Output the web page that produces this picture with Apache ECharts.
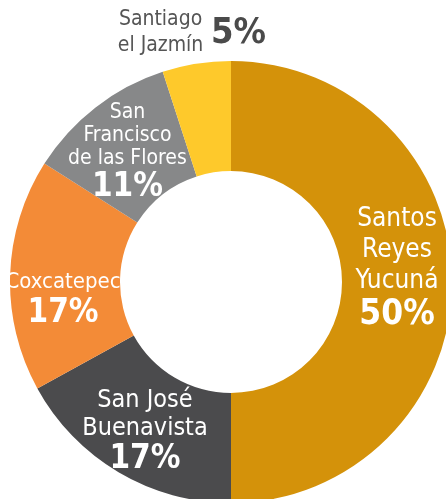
<!DOCTYPE html>
<html>
<head>
<meta charset="utf-8">
<script src="https://cdn.jsdelivr.net/npm/echarts@6/dist/echarts.min.js"></script>
<style>
html, body { margin: 0; padding: 0; background: #fff; }
#main { width: 446px; height: 499px; }
</style>
</head>
<body>
<div id="main"></div>
<script>
var names = ['Santos\nReyes\nYucuná', 'San José\nBuenavista', 'Coxcatepec', 'San\nFrancisco\nde las Flores', 'Santiago\nel Jazmín'];
var values = [50, 17, 17, 11, 5];
var colors = ['#d4920a', '#4b4b4d', '#f38b37', '#878889', '#fec92b'];

var font = "'DejaVu Sans Condensed', 'DejaVu Sans', sans-serif";

// estilo de etiqueta por rebanada
var labelStyles = [
    { name: 26, nameLh: 31, pct: 35, offset: [-3, -14] },
    { name: 25, nameLh: 28, pct: 33, offset: [0, 4] },
    { name: 22, nameLh: 30, pct: 33, offset: [1, 22] },
    { name: 21, nameLh: 23, pct: 33, offset: [0, 4] }
];

var seriesData = values.map(function (v, i) {
    var item = {
        name: names[i],
        value: v,
        itemStyle: { color: colors[i] }
    };
    if (i < 4) {
        var s = labelStyles[i];
        item.label = {
            offset: s.offset,
            formatter: '{n|' + names[i].split('\n').join('}\n{n|') + '}\n{p|' + v + '%}',
            rich: {
                n: { fontFamily: font, fontSize: s.name, lineHeight: s.nameLh, color: '#fff' },
                p: { fontFamily: font, fontSize: s.pct, fontWeight: 'bold', lineHeight: s.pct, color: '#fff' }
            }
        };
    } else {
        item.label = {
            offset: [-44, -83],
            formatter: '{n|' + names[i].split('\n').join('}\n{n|') + '}',
            rich: {
                n: { fontFamily: font, fontSize: 21, lineHeight: 26, color: '#555' }
            }
        };
    }
    return item;
});

// serie transparente solo para el porcentaje de Santiago
var pctData = values.map(function (v, i) {
    return {
        name: names[i],
        value: v,
        label: {
            show: i === 4,
            offset: [34, -81],
            formatter: v + '%',
            fontFamily: font,
            fontSize: 36,
            fontWeight: 'bold',
            color: '#4a4a4a'
        }
    };
});

var option = {
    animation: false,
    series: [{
        type: 'pie',
        center: [231, 282],
        radius: [111, 221],
        startAngle: 90,
        clockwise: true,
        avoidLabelOverlap: false,
        label: {
            show: true,
            position: 'inside',
            align: 'center'
        },
        labelLine: { show: false },
        emphasis: { disabled: true },
        data: seriesData
    }, {
        type: 'pie',
        center: [231, 282],
        radius: [111, 221],
        startAngle: 90,
        clockwise: true,
        silent: true,
        avoidLabelOverlap: false,
        itemStyle: { color: 'transparent', borderWidth: 0 },
        label: { position: 'inside' },
        labelLine: { show: false },
        emphasis: { disabled: true },
        data: pctData
    }]
};

var myChart = echarts.init(document.getElementById('main'));
myChart.setOption(option);
</script>
</body>
</html>
